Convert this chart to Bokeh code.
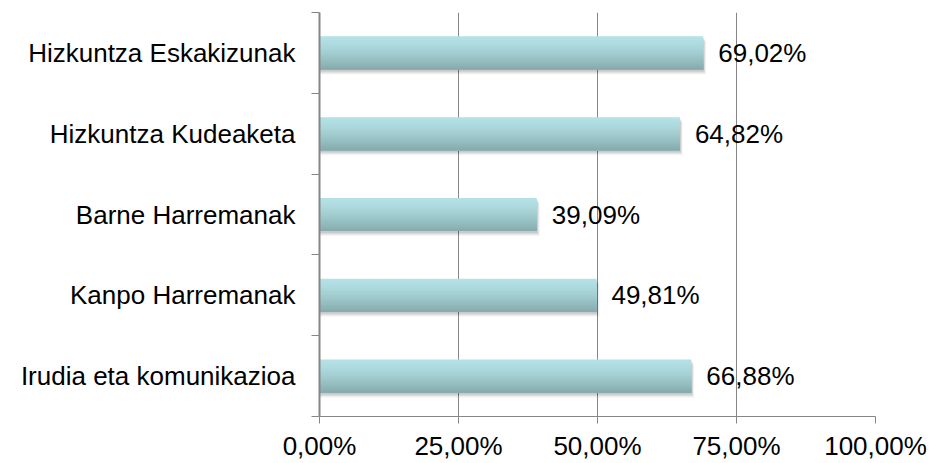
import numpy as np
from bokeh.plotting import figure
from bokeh.models import FixedTicker, ColumnDataSource, Range1d
from bokeh.embed import file_html
from bokeh.resources import INLINE
from bokeh.core.properties import value

# ---- data (top to bottom as shown) ----
categories = ["Hizkuntza Eskakizunak", "Hizkuntza Kudeaketa", "Barne Harremanak",
              "Kanpo Harremanak", "Irudia eta komunikazioa"]
values = [69.02, 64.82, 39.09, 49.81, 66.88]
x_ticks = [0, 25, 50, 75, 100]
x_tick_labels = ["0,00%", "25,00%", "50,00%", "75,00%", "100,00%"]

FONT = "Liberation Sans"
FS = "26px"
GRAY = "#868686"

n = len(categories)
ypos = np.arange(n)[::-1].astype(float)  # top category gets highest y
vals = np.array(values, dtype=float)

p = figure(width=933, height=463, output_backend="svg", toolbar_location=None,
           x_range=Range1d(0, 100), y_range=Range1d(-0.5, n - 0.5),
           min_border_left=319, min_border_right=58, min_border_top=12,
           min_border_bottom=44)
p.outline_line_color = None
p.background_fill_color = "white"
p.border_fill_color = "white"

# grid
p.ygrid.grid_line_color = None
p.xgrid.ticker = FixedTicker(ticks=x_ticks)
p.xgrid.grid_line_color = GRAY
p.xgrid.grid_line_width = 1

# bar geometry (pixel -> data conversions)
px_y = 1.0 / 81.4
px_x = 100.0 / 556.0
h = 0.41

# shadow layers
for dy, dx, a in [(5, 3, 0.04), (4, 2, 0.05), (3, 1.5, 0.06), (2, 1, 0.07)]:
    p.hbar(y=ypos - dy * px_y, left=0, right=vals + dx * px_x, height=h,
           fill_color="black", fill_alpha=a, line_color=None)

# gradient bars (stacked strips, each covering from its top to the bar bottom)
top_c = np.array([0xB3, 0xE1, 0xE5], dtype=float)
bot_c = np.array([0x86, 0xAC, 0xAE], dtype=float)
N = 18
for k in range(N):
    t = k / (N - 1)
    tt = t ** 1.4
    c = top_c + (bot_c - top_c) * tt
    col = "#%02x%02x%02x" % tuple(int(round(v)) for v in c)
    top = ypos + h / 2 - k * h / N
    bottom = ypos - h / 2
    p.hbar(y=(top + bottom) / 2, left=0, right=vals, height=(top - bottom),
           fill_color=col, line_color=None)

# data labels
lab_src = ColumnDataSource(dict(
    x=vals, y=ypos,
    t=[("%.2f" % v).replace(".", ",") + "%" for v in vals]))
p.text(x="x", y="y", text="t", source=lab_src, x_offset=15,
       text_baseline="middle", text_align="left",
       text_font=value(FONT), text_font_size=FS, text_color="black")

# y axis
ya = p.yaxis[0]
ya.ticker = FixedTicker(ticks=list(ypos), minor_ticks=list(np.arange(n + 1) - 0.5))
ya.major_label_overrides = {int(y): c for y, c in zip(ypos, categories)}
ya.major_tick_out = 0
ya.major_tick_in = 0
ya.minor_tick_out = 8
ya.minor_tick_in = 0
ya.minor_tick_line_color = GRAY
ya.axis_line_color = GRAY
ya.axis_line_width = 2
ya.major_label_text_font = FONT
ya.major_label_text_font_size = FS
ya.major_label_text_color = "black"
ya.major_label_standoff = 16

# x axis
xa = p.xaxis[0]
xa.ticker = FixedTicker(ticks=x_ticks, minor_ticks=[])
xa.major_label_overrides = {t: l for t, l in zip(x_ticks, x_tick_labels)}
xa.major_tick_out = 7
xa.major_tick_in = 0
xa.major_tick_line_color = GRAY
xa.axis_line_color = GRAY
xa.major_label_text_font = FONT
xa.major_label_text_font_size = FS
xa.major_label_text_color = "black"
xa.major_label_standoff = 7

open("out.html", "w").write(file_html(p, INLINE))
